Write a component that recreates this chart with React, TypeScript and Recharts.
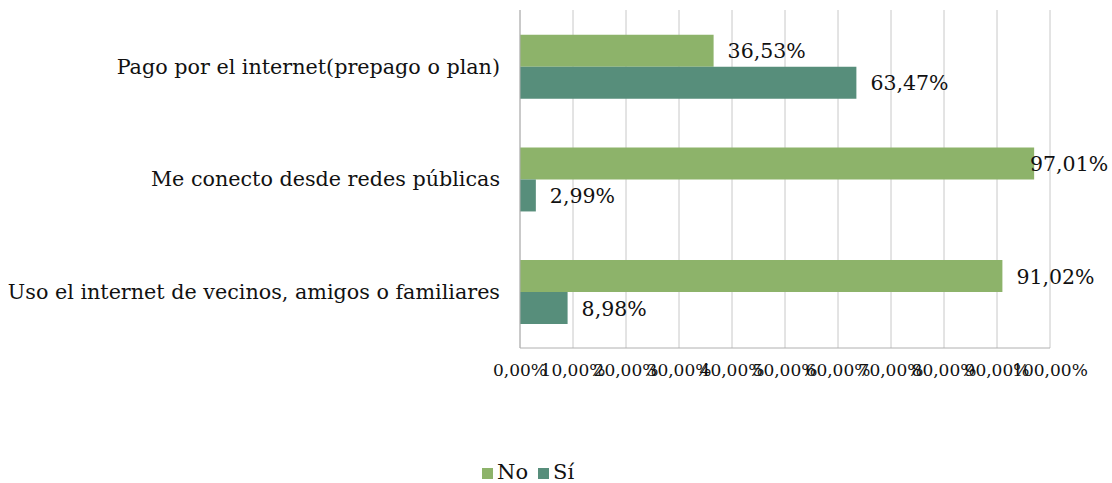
import React from "react";
import { BarChart, Bar, XAxis, YAxis, CartesianGrid, Legend, LabelList } from "recharts";

const categories = [
  "Pago por el internet(prepago o plan)",
  "Me conecto desde redes públicas",
  "Uso el internet de vecinos, amigos o familiares",
];
const noValues = [0.3653, 0.9701, 0.9102];
const siValues = [0.6347, 0.0299, 0.0898];
const xTicks = [0, 0.1, 0.2, 0.3, 0.4, 0.5, 0.6, 0.7, 0.8, 0.9, 1];

const data = categories.map((name, i) => ({ name, No: noValues[i], Si: siValues[i] }));

const FONT = "'DejaVu Serif', Georgia, serif";
const pct = (v: number) => (v * 100).toFixed(2).replace(".", ",") + "%";

const renderLabel = (props: any) => {
  const { x, y, width, height, value } = props;
  const textW = 78;
  const start = Math.min(x + width + 14, 1108 - textW);
  return (
    <text x={start} y={y + height / 2 + 2} dominantBaseline="middle" fontSize={20.5} fontFamily={FONT} fill="#111">
      {pct(value)}
    </text>
  );
};

export default function App() {
  return (
    <div style={{ position: "absolute", left: 0, top: 0, background: "#fff" }}>
      <BarChart
        width={1112}
        height={483}
        data={data}
        layout="vertical"
        margin={{ top: 10, right: 62, left: 0, bottom: 71 }}
        barCategoryGap="22%"
        barGap={0}
      >
        <CartesianGrid horizontal={false} stroke="#c8c8c8" />
        <XAxis
          type="number"
          domain={[0, 1]}
          ticks={xTicks}
          tickFormatter={pct}
          axisLine={{ stroke: "#b0b0b0" }}
          tickLine={false}
          tick={{ fontSize: 17, fontFamily: FONT, fill: "#111" }}
          tickMargin={10}
          height={40}
          interval={0}
        />
        <YAxis
          type="category"
          dataKey="name"
          width={520}
          axisLine={{ stroke: "#b0b0b0" }}
          tickLine={false}
          tickSize={0}
          tickMargin={20}
          tick={{ fontSize: 20.7, fontFamily: FONT, fill: "#111" }}
        />
        <Legend
          verticalAlign="bottom"
          align="left"
          iconType="square"
          iconSize={11}
          wrapperStyle={{ left: 482, top: 460, width: 150, fontFamily: FONT, fontSize: 21, color: "#111" }}
          formatter={(v: string) => <span style={{ color: "#111" }}>{v}</span>}
        />
        <Bar dataKey="No" name="No" fill="#8db36a" isAnimationActive={false}>
          <LabelList dataKey="No" content={renderLabel} />
        </Bar>
        <Bar dataKey="Si" name="Sí" fill="#578e7b" isAnimationActive={false}>
          <LabelList dataKey="Si" content={renderLabel} />
        </Bar>
      </BarChart>
    </div>
  );
}
